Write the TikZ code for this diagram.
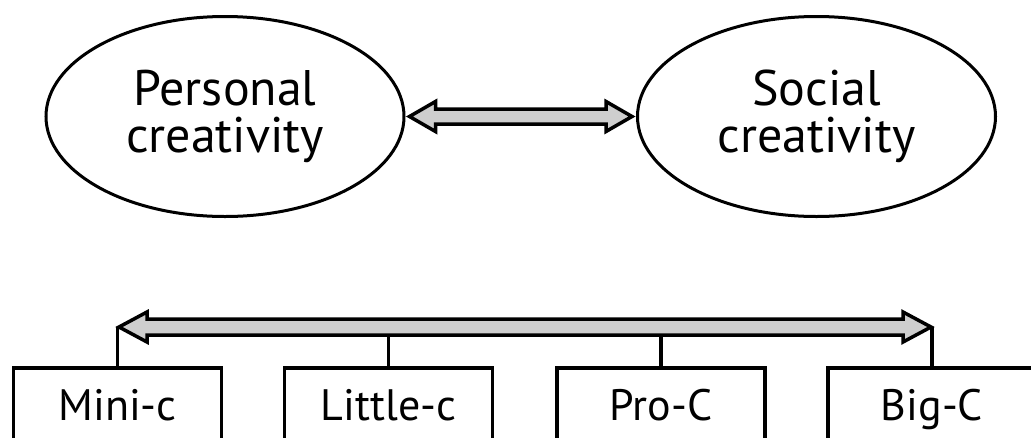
\documentclass[tikz,border=0pt]{standalone}
\usepackage{fontspec}
\setmainfont{PT Sans}
\usetikzlibrary{shapes.geometric,calc}
\definecolor{arrowgray}{RGB}{206,206,206}
\begin{document}
\begin{tikzpicture}[x=1pt,y=-1pt,
  oval/.style={draw, line width=3pt, ellipse, minimum width=358, minimum height=200, inner sep=0pt,
    align=center, font=\fontsize{50}{47}\selectfont},
  levelbox/.style={draw, line width=3.5pt, rectangle, minimum width=208, minimum height=74, inner sep=0pt,
    text height=30pt, text depth=0pt, font=\fontsize{44}{47}\selectfont},
  fatarrow/.style={draw, line width=3.5pt, fill=arrowgray, line join=miter},
  link/.style={draw, line width=3.5pt}]
\useasboundingbox (0,0) rectangle (1031,437);
\clip (0,0) rectangle (1031,437);
% ellipses
\node[oval] (pers) at (225,116.5) {Personal\\creativity};
\node[oval] (soc) at (816.5,116.5) {Social\\creativity};
% top double arrow
\coordinate (tl) at ($(pers.east)+(4,0)$);
\coordinate (tr) at ($(soc.west)+(-4,0)$);
\path[fatarrow] (tl) -- ($(tl)+(26,-15)$) -- ($(tl)+(26,-7.5)$) -- ($(tr)+(-26,-7.5)$) -- ($(tr)+(-26,-15)$)
  -- (tr) -- ($(tr)+(-26,15)$) -- ($(tr)+(-26,7.5)$) -- ($(tl)+(26,7.5)$) -- ($(tl)+(26,15)$) -- cycle;
% boxes
\node[levelbox] (mini) at (117.5,405) {Mini-c};
\node[levelbox] (little) at (388.5,405) {Little-c};
\node[levelbox] (pro) at (661,405) {Pro-C};
\node[levelbox] (big) at (932,405) {Big-C};
% bottom double arrow
\coordinate (bl) at (119,327);
\coordinate (br) at (931,327);
\path[fatarrow] (bl) -- ($(bl)+(28,-15)$) -- ($(bl)+(28,-8)$) -- ($(br)+(-28,-8)$) -- ($(br)+(-28,-15)$)
  -- (br) -- ($(br)+(-28,15)$) -- ($(br)+(-28,8)$) -- ($(bl)+(28,8)$) -- ($(bl)+(28,15)$) -- cycle;
% vertical links
\path[link] (mini.north) -- (mini.north |- bl);
\path[link] (big.north) -- (big.north |- br);
\path[link] (little.north) -- ++(0,-30);
\path[link] (pro.north) -- ++(0,-30);
\end{tikzpicture}
\end{document}
